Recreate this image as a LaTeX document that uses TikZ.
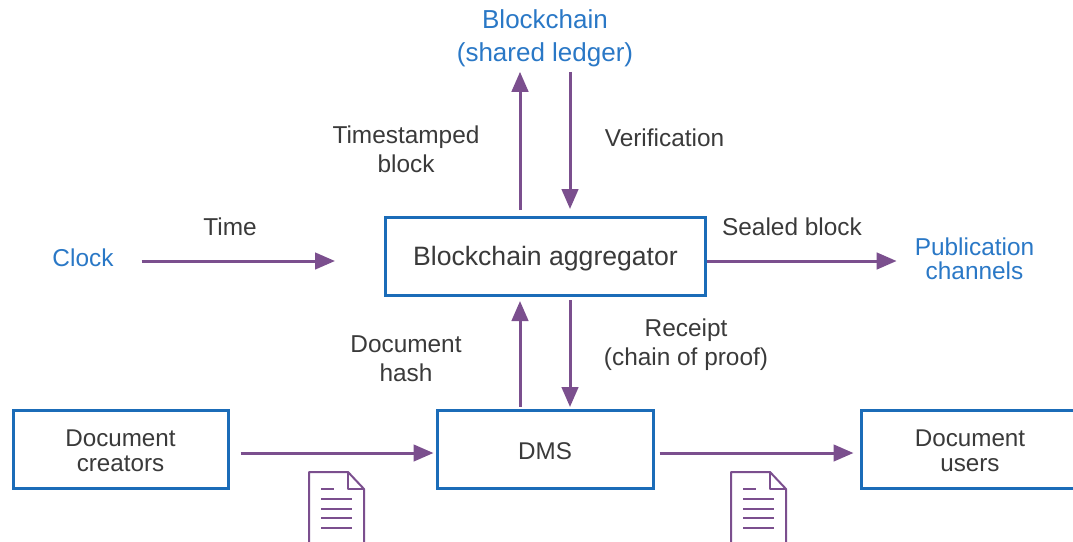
\documentclass[tikz,border=0pt]{standalone}
\usepackage{fontspec}
\setmainfont{Liberation Sans}
\usetikzlibrary{arrows.meta}
\definecolor{boxblue}{HTML}{1B6CB8}
\definecolor{textblue}{HTML}{2A78C6}
\definecolor{flow}{HTML}{7B4F8E}
\definecolor{ink}{HTML}{3A3A3A}
\tikzset{
  box/.style={draw=boxblue,line width=3pt,fill=white,text=ink,align=center,inner sep=0pt,font=\fontsize{24.2}{25}\selectfont},
  lab/.style={text=ink,align=center,inner sep=0pt,font=\fontsize{24.4}{29}\selectfont},
  bluelab/.style={lab,text=textblue},
  flowline/.style={draw=flow,line width=3pt,-{Triangle[length=20pt,width=16.5pt]}},
  pics/docicon/.style={code={
    \draw[flow,line width=2pt,line join=round] (0,72) -- (0,0) -- (39,0) -- (55,17) -- (55,72);
    \draw[flow,line width=2pt,line join=round] (39,0) -- (39,17) -- (55,17);
    \draw[flow,line width=2.4pt] (12,17) -- (25,17);
    \foreach \yy in {27,37,46,56} \draw[flow,line width=2.4pt] (12,\yy) -- (43,\yy);
  }}
}
\begin{document}
\begin{tikzpicture}[x=1pt,y=-1pt]
\useasboundingbox (0,0) rectangle (1073,541);
\clip (0,0) rectangle (1073,541);
\node[box,minimum width=320pt,minimum height=78pt,font=\fontsize{26.6}{28}\selectfont] (agg) at (545.5,256) {\rule{0pt}{25pt}Blockchain aggregator};
\node[box,minimum width=216pt,minimum height=78pt] (dms) at (545,449) {\rule{0pt}{21pt}DMS};
\node[box,minimum width=215pt,minimum height=78pt] (creators) at (120.5,449) {\rule{0pt}{20.5pt}Document\\creators};
\node[box,minimum width=218pt,minimum height=78pt] (users) at (970,449) {\rule{0pt}{20.5pt}Document\\users};
\node[bluelab,font=\fontsize{26}{33}\selectfont] (chain) at (545,38.5) {Blockchain\\(shared ledger)};
\node[bluelab] (clock) at (83,258) {Clock};
\node[bluelab,font=\fontsize{24.4}{24.5}\selectfont] (pub) at (974.5,259) {Publication\\channels};
\node[lab] (tsb) at (406,149.5) {Timestamped\\block};
\node[lab] (ver) at (664.5,138) {Verification};
\node[lab] (time) at (230,227) {Time};
\node[lab] (seal) at (792,227) {Sealed block};
\node[lab] (hash) at (406,359) {Document\\hash};
\node[lab] (rec) at (686,345) {Receipt\\(chain of proof)};
% connectors
\draw[flowline,shorten <=5.5pt,shorten >=4.5pt] ([xshift=-25.5pt]agg.north) -- ([xshift=-25pt]chain.south);
\draw[flowline,shorten <=4.5pt,shorten >=6.5pt] ([xshift=25pt]chain.south) -- ([xshift=24.5pt]agg.north);
\draw[flowline,shorten <=28pt,shorten >=49pt] ([yshift=-3pt]clock.east) -- ([yshift=-5pt]agg.west);
\draw[flowline,shorten >=18pt] ([yshift=-5pt]agg.east) -- ([yshift=-2pt]pub.west);
\draw[flowline,shorten <=2pt,shorten >=4.5pt] ([xshift=-25pt]dms.north) -- ([xshift=-25.5pt]agg.south);
\draw[flowline,shorten <=3.5pt,shorten >=1.5pt] ([xshift=24.5pt]agg.south) -- ([xshift=25pt]dms.north);
\draw[flowline,shorten <=11pt,shorten >=2pt] ([yshift=-4pt]creators.east) -- ([yshift=-4pt]dms.west);
\draw[flowline,shorten <=5pt,shorten >=6pt] ([yshift=-4pt]dms.east) -- ([yshift=-4pt]users.west);
\pic at (309,472) {docicon};
\pic at (731,472) {docicon};
\end{tikzpicture}
\end{document}
